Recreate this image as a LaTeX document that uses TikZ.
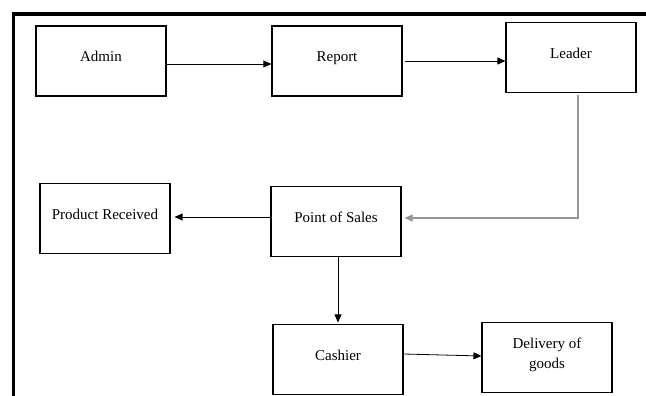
\documentclass[tikz,border=0pt]{standalone}
\usepackage{fontspec}
\setmainfont{Liberation Serif}
\usetikzlibrary{arrows.meta}
\definecolor{linegray}{RGB}{150,150,150}

\begin{document}
\begin{tikzpicture}[x=1pt, y=-1pt,
	box/.style={draw, line width=1.1pt, minimum width=130pt, minimum height=70pt,
		inner sep=0pt, align=center, font=\rmfamily\fontsize{15}{20}\selectfont,
		execute at end node={\rule[-9pt]{0pt}{0pt}}},
	arrow/.style={line width=0.8pt, -{Triangle[length=8pt, width=7pt]}},
	grayarrow/.style={arrow, draw=linegray, line width=1.1pt}]
	\useasboundingbox (0,0) rectangle (646,396);

	% frame
	\draw[line width=3.8pt] (13.5,396) -- (13.5,14) -- (646,14);

	% top row
	\node[box] (admin) at (101,61) {Admin};
	\node[box] (report) at (337,61) {Report};
	\node[box] (leader) at (571,57.5) {Leader};

	% middle row
	\node[box] (product) at (105,218.5) {Product Received};
	\node[box] (point) at (336,221.5) {Point of Sales};

	% bottom row
	\node[box] (cashier) at (338,359.5) {Cashier};
	\node[box] (delivery) at (547,357.5) {Delivery of\\goods};

	% admin to report
	\draw[arrow] ([yshift=-3pt]admin.east) -- ([yshift=-3pt]report.west);

	% report to leader
	\draw[arrow, shorten <=2pt] (report.east) -- (report.east -| leader.west);

	% leader to point of sales
	\draw[grayarrow, shorten <=2pt, shorten >=3pt] ([xshift=7pt]leader.south) |- ([yshift=3.5pt]point.east);

	% point of sales to product received
	\draw[arrow, shorten >=4pt] ([yshift=4.5pt]point.west) -- ([yshift=4.5pt]point.west -| product.east);

	% point of sales to cashier
	\draw[arrow, shorten >=1.5pt] (point.south -| cashier.north) -- (cashier.north);

	% cashier to delivery
	\draw[arrow] ([yshift=5.5pt]cashier.east) -- ([yshift=1.5pt]delivery.west);
\end{tikzpicture}
\end{document}
